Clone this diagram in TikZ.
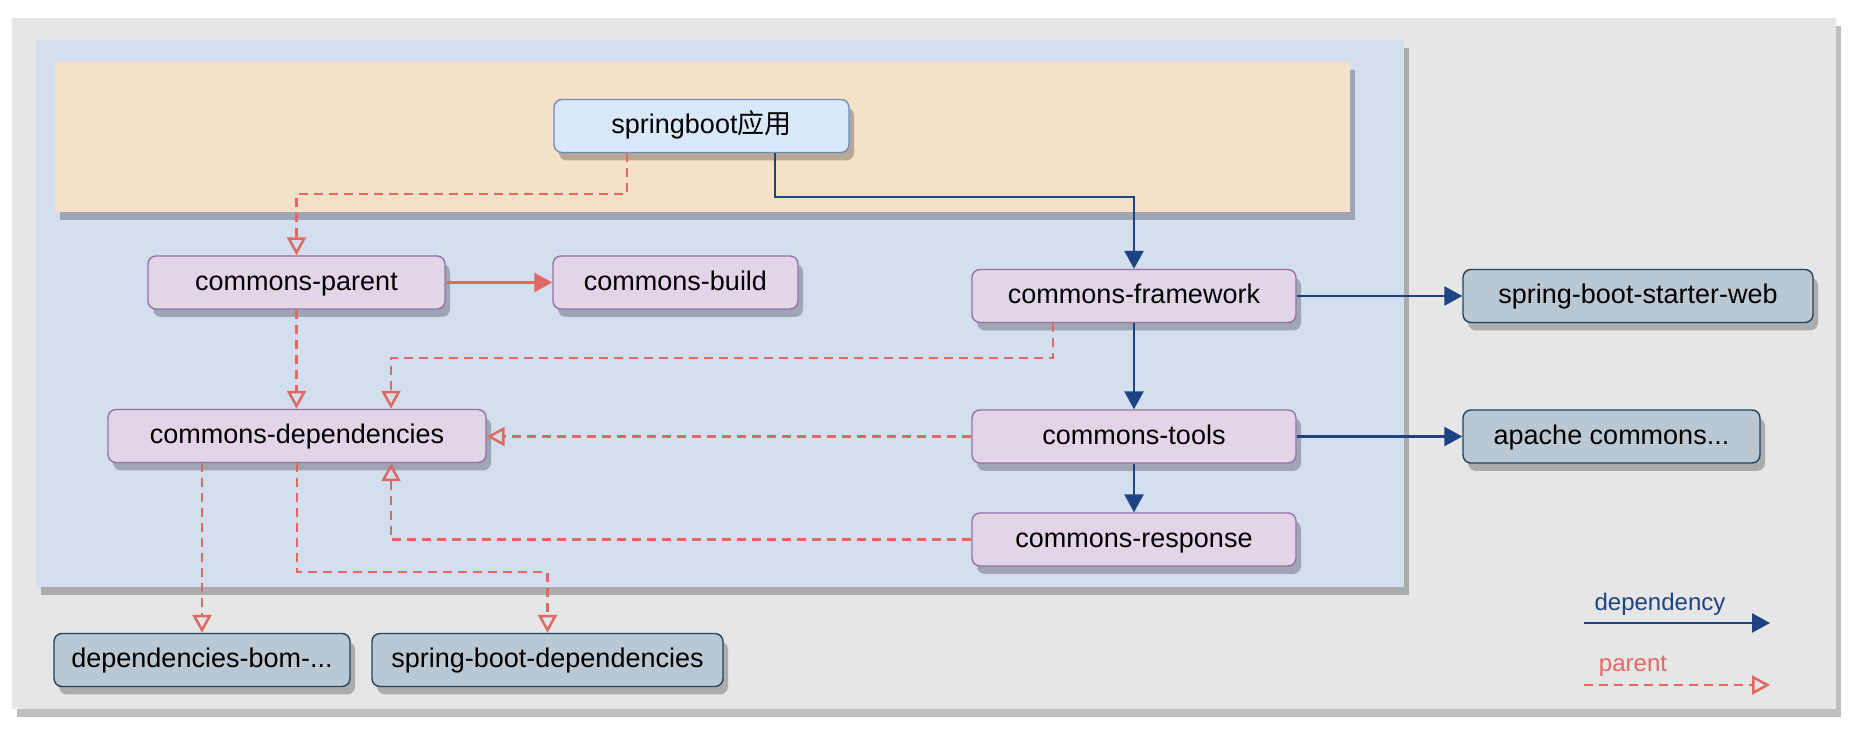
\documentclass[tikz,border=0pt]{standalone}
\usepackage{fontspec}
\setmainfont{Liberation Sans}
\newfontfamily\cjk{Noto Sans CJK SC}
\usetikzlibrary{arrows.meta,shadows,calc}
\definecolor{outerbg}{HTML}{E6E6E6}
\definecolor{panelblue}{HTML}{D3DEEF}
\definecolor{panelorange}{HTML}{F5E1C8}
\definecolor{purplefill}{HTML}{E1D5E7}
\definecolor{purpleline}{HTML}{9673A6}
\definecolor{greyfill}{HTML}{BAC8D3}
\definecolor{greyline}{HTML}{23445D}
\definecolor{appfill}{HTML}{DAE8FC}
\definecolor{appline}{HTML}{6C8EBF}
\definecolor{deblue}{HTML}{1E4382}
\definecolor{pared}{HTML}{E06A63}
\tikzset{
  myshadow/.style={general shadow={fill=black, opacity=0.25, shadow xshift=2.5pt, shadow yshift=-4pt}},
  box/.style={draw, line width=0.7pt, rounded corners=4pt, minimum height=26.5pt, inner sep=0pt,
              text height=10.5pt, text depth=2.8pt,
              font=\fontsize{13.5pt}{16pt}\selectfont, text=black, myshadow},
  modbox/.style={box, fill=purplefill, draw=purpleline},
  extbox/.style={box, fill=greyfill, draw=greyline},
  appbox/.style={box, fill=appfill, draw=appline},
  depend/.style={draw=deblue, line width=1.3pt, -{Triangle[length=9pt,width=9.5pt]}},
  inherit/.style={draw=pared, line width=1.25pt, dash pattern=on 4.5pt off 3pt, -{Triangle[open,length=9pt,width=9.5pt]}},
  redsolid/.style={draw=pared, line width=1.3pt, -{Triangle[length=9pt,width=9.5pt]}},
}
\begin{document}
\begin{tikzpicture}[x=0.5pt,y=-0.5pt]
\useasboundingbox (0,0) rectangle (1860,732);
% panels
\fill[outerbg, myshadow] (12,18) rectangle (1836,709);
\fill[panelblue, myshadow] (36,40) rectangle (1404,587);
\fill[panelorange, myshadow] (55,62) rectangle (1350,212);
% nodes
\node[appbox, minimum width=147.5pt] (sb) at (701.5,126) {springboot{\cjk 应用}};
\node[modbox, minimum width=148.5pt] (pa) at (296.5,282.5) {commons-parent};
\node[modbox, minimum width=122.5pt] (bd) at (675.5,282.5) {commons-build};
\node[modbox, minimum width=162pt] (fw) at (1134,296) {commons-framework};
\node[extbox, minimum width=175pt] (web) at (1638,296) {spring-boot-starter-web};
\node[modbox, minimum width=162pt] (tl) at (1134,436.5) {commons-tools};
\node[extbox, minimum width=148.5pt] (ap) at (1611.5,436.5) {apache commons...};
\node[modbox, minimum width=162pt] (rs) at (1134,539.5) {commons-response};
\node[modbox, minimum width=189pt] (dep) at (297,436) {commons-dependencies};
\node[extbox, minimum width=148pt] (bom) at (202,660) {dependencies-bom-...};
\node[extbox, minimum width=175.5pt] (sbd) at (547.5,660) {spring-boot-dependencies};
% connectors
\draw[inherit] ([xshift=-37.25pt]sb.south) -- ++(0,41) -| (pa.north);
\draw[depend] ([xshift=36.75pt]sb.south) -- ++(0,44) -| (fw.north);
\draw[redsolid] (pa.east) -- (bd.west);
\draw[inherit] (pa.south) -- (pa.south |- dep.north);
\draw[inherit] ([xshift=-40.5pt]fw.south) -- ++(0,35) -| ([xshift=47pt]dep.north);
\draw[depend] (fw.south) -- (tl.north);
\draw[depend] (fw.east) -- (web.west);
\draw[inherit] (tl.west) -- (tl.west -| dep.east);
\draw[depend] (tl.east) -- (ap.west);
\draw[depend] (tl.south) -- (rs.north);
\draw[inherit] (rs.west) -| ([xshift=47pt]dep.south);
\draw[inherit] (dep.south -| bom.north) -- (bom.north);
\draw[inherit] (dep.south) -- ++(0,109) -| (sbd.north);
% legend
\coordinate (ld1) at (1584,623);
\coordinate (ld2) at (1770,623);
\coordinate (lp1) at (1584,685);
\coordinate (lp2) at (1770,685);
\draw[depend] (ld1) -- (ld2);
\draw[inherit] (lp1) -- (lp2);
\node[text=deblue, font=\fontsize{12pt}{14pt}\selectfont, inner sep=0pt] (ldt) at (1660,604) {dependency};
\node[text=pared, font=\fontsize{12pt}{14pt}\selectfont, inner sep=0pt] (lpt) at (1633,666) {parent};
\end{tikzpicture}
\end{document}
